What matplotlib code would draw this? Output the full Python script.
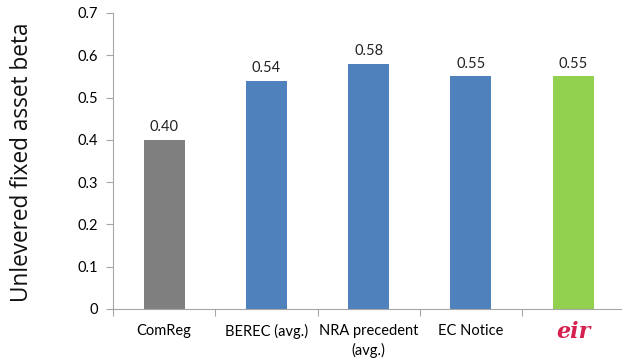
import matplotlib
matplotlib.use("Agg")
import matplotlib.pyplot as plt

categories = ["ComReg", "BEREC (avg.)", "NRA precedent\n(avg.)", "EC Notice", "eir"]
betas = [0.40, 0.54, 0.58, 0.55, 0.55]
bar_colors = ["#7f7f7f", "#4f81bd", "#4f81bd", "#4f81bd", "#92d050"]
yticks = [0, 0.1, 0.2, 0.3, 0.4, 0.5, 0.6, 0.7]

plt.rcParams["font.family"] = ["Lato", "DejaVu Sans"]

fig = plt.figure(figsize=(6.22, 3.63), dpi=100)
ax = fig.add_axes([0.1817, 0.1488, 0.822, 0.8154])

x = list(range(len(categories)))
ax.bar(x, betas, width=0.4, color=bar_colors, zorder=2)
for xi, v in zip(x, betas):
    ax.text(xi, v + 0.014, f"{v:.2f}", ha="center", va="bottom", fontsize=10.5, color="#222222")

ax.set_xlim(-0.5, 4.5)
ax.set_ylim(0, 0.7)
ax.set_yticks(yticks)
ax.set_yticklabels(["0" if t == 0 else f"{t:.1f}" for t in yticks], fontsize=10.5)

# category ticks sit at the boundaries between bars
ax.set_xticks([i - 0.5 for i in range(len(categories) + 1)])
ax.set_xticklabels([])
ax.set_xticks(x, minor=True)
ax.set_xticklabels(categories[:-1] + [""], minor=True, fontsize=10.5, linespacing=1.4)
ax.tick_params(axis="x", which="minor", length=0, pad=11)
ax.tick_params(axis="x", which="major", length=5, color="#a6a6a6", direction="out")
ax.tick_params(axis="y", length=5, color="#a6a6a6", direction="out", pad=6)

# brand wordmark for the last category
ax.text(4, -0.055, "eir", transform=ax.transData, ha="center", va="center",
        fontsize=16, fontstyle="italic", fontweight="bold", color="#d4214f",
        family="DejaVu Serif", clip_on=False)

for side in ["top", "right"]:
    ax.spines[side].set_visible(False)
ax.spines["left"].set_color("#a6a6a6")
ax.spines["bottom"].set_color("#a6a6a6")

fig.text(0.036, 0.552, "Unlevered fixed asset beta", rotation=90, ha="center", va="center",
         fontsize=16.3, color="#111111", family="Open Sans")

fig.savefig("out.png", dpi=100)
